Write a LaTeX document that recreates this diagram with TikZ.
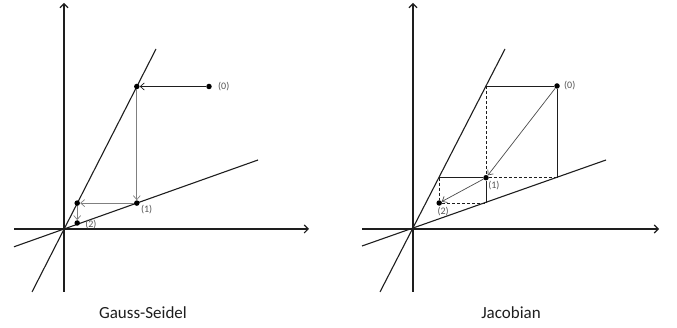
\documentclass[tikz,border=0pt]{standalone}
\usepackage{fontspec}
\setmainfont{Carlito}
\usetikzlibrary{positioning, arrows.meta, calc}
\definecolor{axisgray}{HTML}{1E1E1E}
\definecolor{stepgray}{HTML}{808080}
\definecolor{labelgray}{HTML}{555555}

\begin{document}
\begin{tikzpicture}[x=1pt, y=1pt,
    axis/.style={draw=axisgray, line width=1.1pt, -{Straight Barb[length=4pt, width=8pt]}},
    sysline/.style={draw=axisgray, line width=1.1pt},
    dot/.style={circle, fill=black, inner sep=0pt, minimum size=5.5pt},
    iter/.style={draw=stepgray, line width=0.7pt, -{Straight Barb[length=4pt, width=7pt]}},
    proj/.style={draw=axisgray, line width=0.8pt},
    projdash/.style={proj, dash pattern=on 3pt off 2pt},
    lbl/.style={text=labelgray, font=\fontsize{10}{10}\selectfont, inner sep=1pt},
    caption/.style={font=\fontsize{17}{17}\selectfont, text=axisgray}]
  \useasboundingbox (0,0) rectangle (677,328);

  \begin{scope}[shift={(64,99)}]
    \coordinate (gs-xl) at (-50,0);
    \coordinate (gs-xr) at (245,0);
    \coordinate (gs-yb) at (0,-63);
    \coordinate (gs-yt) at (0,226);
    \coordinate (gs-sa) at (-32,-63);
    \coordinate (gs-sb) at (92,180);
    \coordinate (gs-fa) at (-50,-17.8);
    \coordinate (gs-fb) at (194,69);
    \draw[axis] (gs-xl) -- (gs-xr);
    \draw[axis] (gs-yb) -- (gs-yt);
    \draw[sysline] (gs-sa) -- (gs-sb);
    \draw[sysline] (gs-fa) -- (gs-fb);
    \node[dot] (gs-p0) at (145,142.5) {};
    \node[dot] (gs-a) at (72.8,142.5) {};
    \node[dot] (gs-p1) at (72.8,25.9) {};
    \node[dot] (gs-b) at (13.2,25.9) {};
    \node[dot] (gs-p2) at (13.2,6) {};
    \draw[iter, draw=axisgray] (gs-p0) -- (gs-a);
    \draw[iter] (gs-a) -- (gs-p1);
    \draw[iter] (gs-p1) -- (gs-b);
    \draw[iter] (gs-b) -- (gs-p2);
    \node[lbl, right=5pt of gs-p0] (gs-l0) {(0)};
    \node[lbl, below right=-1pt and 1pt of gs-p1] (gs-l1) {(1)};
    \node[lbl, right=4pt of gs-p2, yshift=-2pt] (gs-l2) {(2)};
  \end{scope}

  \begin{scope}[shift={(413,99)}]
    \coordinate (jc-xl) at (-51,0);
    \coordinate (jc-xr) at (246,0);
    \coordinate (jc-yb) at (0,-63);
    \coordinate (jc-yt) at (0,226);
    \coordinate (jc-sa) at (-33,-63);
    \coordinate (jc-sb) at (92,180);
    \coordinate (jc-fa) at (-51,-17);
    \coordinate (jc-fb) at (193,69);
    \draw[axis] (jc-xl) -- (jc-xr);
    \draw[axis] (jc-yb) -- (jc-yt);
    \draw[sysline] (jc-sa) -- (jc-sb);
    \draw[sysline] (jc-fa) -- (jc-fb);
    \node[dot] (jc-p0) at (144,143) {};
    \node[dot] (jc-p1) at (73,51.3) {};
    \node[dot] (jc-p2) at (26.2,26) {};
    \coordinate (jc-c1) at (73,143);
    \coordinate (jc-d1) at (144,51.3);
    \coordinate (jc-c2) at (26.2,51.3);
    \coordinate (jc-d2) at (73,26);
    \draw[proj] (jc-c1) -- (jc-p0);
    \draw[proj] (jc-p0) -- (jc-d1);
    \draw[projdash] (jc-c1) -- (jc-p1);
    \draw[projdash] (jc-p1) -- (jc-d1);
    \draw[proj] (jc-c2) -- (jc-p1);
    \draw[proj] (jc-p1) -- (jc-d2);
    \draw[projdash] (jc-c2) -- (jc-p2);
    \draw[projdash] (jc-p2) -- (jc-d2);
    \draw[iter, draw=axisgray!80] (jc-p0) -- (jc-p1);
    \draw[iter, draw=axisgray!80] (jc-p1) -- (jc-p2);
    \node[lbl, right=3pt of jc-p0] (jc-l0) {(0)};
    \node[lbl, below right=0pt and -1pt of jc-p1] (jc-l1) {(1)};
    \node[lbl, below=0pt of jc-p2, xshift=4pt] (jc-l2) {(2)};
  \end{scope}

  \node[caption] (gs-title) at (143,15) {Gauss-Seidel};
  \node[caption] (jc-title) at (511,15) {Jacobian};
\end{tikzpicture}
\end{document}
